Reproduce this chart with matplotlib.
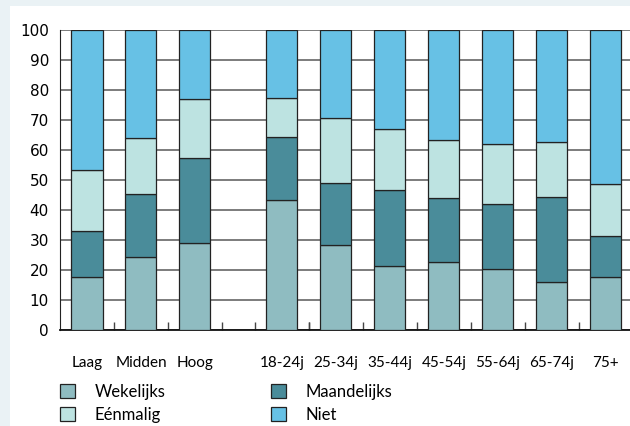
import numpy as np
import matplotlib.pyplot as plt
from matplotlib.patches import Rectangle

categories = ["Laag", "Midden", "Hoog", "18-24j", "25-34j", "35-44j",
              "45-54j", "55-64j", "65-74j", "75+"]
series = ["Wekelijks", "Maandelijks", "Eénmalig", "Niet"]

# percentages per segment
wekelijks = [17.6, 24.4, 28.9, 43.2, 28.2, 21.3, 22.6, 20.2, 15.9, 17.7]
maandelijks = [15.4, 20.8, 28.3, 21.0, 20.7, 25.3, 21.4, 21.7, 28.5, 13.5]
eenmalig = [20.3, 18.7, 19.7, 13.0, 21.9, 20.5, 19.3, 20.2, 18.4, 17.5]
niet = [46.7, 36.1, 23.1, 22.8, 29.2, 32.9, 36.7, 37.9, 37.2, 51.3]

colors = ["#8fbcc1", "#4a8c9a", "#bde3e1", "#67c1e5"]
outer_bg = "#eaf2f5"

# education group, gap, then age groups
gap = 0.61
pos = np.r_[np.arange(3), np.arange(7) + 3 + gap]

fig = plt.figure(figsize=(6.3, 4.26), dpi=100, facecolor=outer_bg)
fig.patches.append(Rectangle((10 / 630, 0), 1, 1 - 6 / 426, transform=fig.transFigure,
                             facecolor="white", edgecolor="none", zorder=-5))

ax = fig.add_axes([60 / 630, 96 / 426, 570 / 630, 300 / 426])
ax.set_facecolor("white")

bottom = np.zeros(len(categories))
handles = []
for name, vals, col in zip(series, [wekelijks, maandelijks, eenmalig, niet], colors):
    b = ax.bar(pos, vals, bottom=bottom, width=0.575, color=col,
               edgecolor="#222222", linewidth=0.9, label=name, zorder=3)
    handles.append(b)
    bottom += np.array(vals)

ax.set_xlim(-0.5, 10.06)
ax.set_ylim(0, 100)
ax.set_yticks(np.arange(0, 101, 10))
ax.yaxis.grid(True, color="#666666", linewidth=1.2, zorder=0)
ax.set_axisbelow(True)
ax.tick_params(axis="y", length=0, labelsize=11, pad=8)

# category labels under the bars, tick marks between them
ax.set_xticks(pos)
ax.set_xticklabels(categories, fontfamily="Lato", fontsize=11)
ax.tick_params(axis="x", which="major", length=0, pad=19)
between = np.unique(np.r_[pos[:-1] + 0.5, pos[1:] - 0.5])
ax.set_xticks(between, minor=True)
ax.tick_params(axis="x", which="minor", direction="in", length=6, width=1, color="#444444")

for s in ["top", "right"]:
    ax.spines[s].set_visible(False)
ax.spines["left"].set_color("#222222")
ax.spines["bottom"].set_color("#111111")
ax.spines["bottom"].set_linewidth(1.3)

leg_order = [handles[0], handles[2], handles[1], handles[3]]
fig.legend(leg_order, [h.get_label() for h in leg_order], ncol=2,
           loc="upper left", bbox_to_anchor=(53 / 630, 1 - 377 / 426),
           frameon=False, prop={"family": "Lato", "size": 12},
           handlelength=0.9, handleheight=0.9, handletextpad=1.2,
           columnspacing=6.3, labelspacing=0.42, borderaxespad=0)

fig.savefig("out.png", dpi=100, facecolor=outer_bg)
